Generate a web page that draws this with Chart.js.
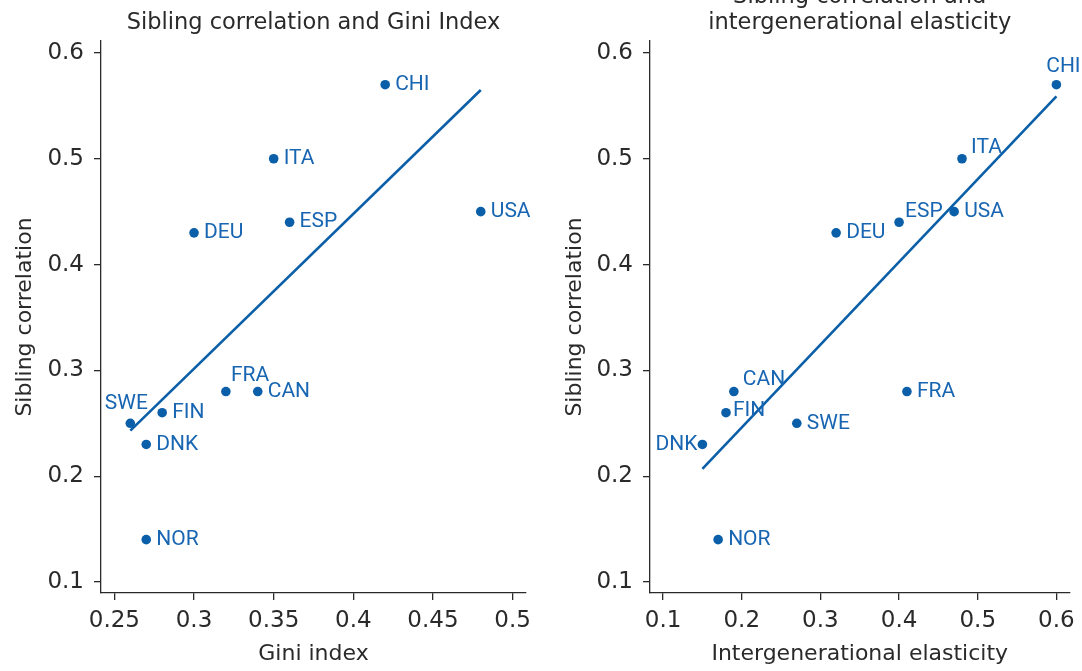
<!DOCTYPE html>
<html>
<head>
<meta charset="utf-8">
<script src="https://cdn.jsdelivr.net/npm/chart.js@4.4.1/dist/chart.umd.min.js"></script>
<style>
  html, body { margin: 0; padding: 0; background: #fff; overflow: hidden; }
  #page { position: relative; width: 1082px; height: 671px; overflow: hidden; }
  .panel { position: absolute; width: 541px; }
  #left { left: 0; top: 0; height: 671px; }
  #right { left: 541px; top: -26px; height: 697px; }
</style>
</head>
<body>
<div id="page">
  <div class="panel" id="left"><canvas id="giniChart" width="541" height="671"></canvas></div>
  <div class="panel" id="right"><canvas id="igeChart" width="541" height="697"></canvas></div>
</div>
<script>
// country codes and the two measures plotted against sibling correlation
const countries    = ['CHI', 'ITA', 'ESP', 'USA', 'DEU', 'FRA', 'CAN', 'SWE', 'FIN', 'DNK', 'NOR'];
const siblingCorr  = [0.57, 0.50, 0.44, 0.45, 0.43, 0.28, 0.28, 0.25, 0.26, 0.23, 0.14];
const giniIndex    = [0.42, 0.35, 0.36, 0.48, 0.30, 0.32, 0.34, 0.26, 0.28, 0.27, 0.27];
const igElasticity = [0.60, 0.48, 0.40, 0.47, 0.32, 0.41, 0.19, 0.27, 0.18, 0.15, 0.17];

// fitted lines, [x, y] at each end
const giniFit = [[0.26, 0.243], [0.48, 0.565]];
const igeFit  = [[0.15, 0.207], [0.60, 0.559]];

const giniTicks = [0.25, 0.3, 0.35, 0.4, 0.45, 0.5];
const igeTicks  = [0.1, 0.2, 0.3, 0.4, 0.5, 0.6];
const corrTicks = [0.1, 0.2, 0.3, 0.4, 0.5, 0.6];

const blue = '#0b5fa8';
const labelBlue = '#1866b2';
const ink = '#2a2a2a';
const axisFont = '"DejaVu Sans", sans-serif';
const labelFont = 'Roboto, sans-serif';

// where each country label sits relative to its dot: [dx, dy, textAlign]
const labelPlacement = {
  giniChart: {
    FRA: [5, -16, 'left'],
    SWE: [-4, -20, 'center']
  },
  igeChart: {
    CHI: [7, -18, 'center'],
    ITA: [9, -11, 'left'],
    ESP: [6, -10, 'left'],
    CAN: [9, -12, 'left'],
    FIN: [7, -2, 'left'],
    DNK: [-5, 0, 'right']
  }
};

const panelTitles = {
  giniChart: { lines: ['Sibling correlation and Gini Index'], top: 23.5 },
  igeChart: { lines: ['Sibling correlation and', 'intergenerational elasticity'], top: 23.5 }
};

const pointLabels = {
  id: 'pointLabels',
  afterDatasetsDraw(chart) {
    const ctx = chart.ctx;
    const place = labelPlacement[chart.canvas.id] || {};
    const meta = chart.getDatasetMeta(0);
    ctx.save();
    ctx.font = `21px ${labelFont}`;
    ctx.fillStyle = labelBlue;
    ctx.textBaseline = 'middle';
    meta.data.forEach((pt, i) => {
      const name = countries[i];
      const [dx, dy, align] = place[name] || [10, 0, 'left'];
      ctx.textAlign = align;
      ctx.fillText(name, pt.x + dx, pt.y + dy);
    });
    ctx.restore();
  }
};

// title centred over the plot area rather than the whole canvas
const panelTitle = {
  id: 'panelTitle',
  afterDraw(chart) {
    const t = panelTitles[chart.canvas.id];
    const {ctx, chartArea} = chart;
    const cx = (chartArea.left + chartArea.right) / 2;
    ctx.save();
    ctx.font = `22.5px ${axisFont}`;
    ctx.fillStyle = ink;
    ctx.textAlign = 'center';
    ctx.textBaseline = 'middle';
    t.lines.forEach((line, i) => ctx.fillText(line, cx, t.top + i * 26));
    ctx.restore();
  }
};

function axisOptions(ticks, min, max, title, titlePad, fitSize, horizontal) {
  return {
    type: 'linear',
    min: min,
    max: max,
    afterBuildTicks: axis => { axis.ticks = ticks.map(v => ({ value: v })); },
    afterFit: axis => {
      if (horizontal) axis.height = fitSize;
      else axis.width = fitSize;
    },
    ticks: {
      callback: v => String(v),
      autoSkip: false,
      maxRotation: 0,
      color: ink,
      padding: horizontal ? 7 : 10,
      font: { family: axisFont, size: 23 }
    },
    grid: {
      drawOnChartArea: false,
      drawTicks: true,
      tickLength: 7,
      color: ink,
      lineWidth: 1.3
    },
    border: { display: true, color: ink, width: 1.3 },
    title: {
      display: true,
      text: title,
      color: ink,
      font: { family: axisFont, size: 22, lineHeight: 1.2 },
      padding: titlePad
    }
  };
}

function makeChart(id, xs, fit, xTicks, xMin, xMax, xTitle, setup) {
  const points = xs.map((x, i) => ({ x: x, y: siblingCorr[i] }));
  const line = fit.map(p => ({ x: p[0], y: p[1] }));
  return new Chart(document.getElementById(id), {
    type: 'scatter',
    data: {
      datasets: [
        {
          data: points,
          backgroundColor: blue,
          borderColor: blue,
          pointRadius: 4.8,
          pointBorderWidth: 0
        },
        {
          type: 'line',
          data: line,
          borderColor: blue,
          borderWidth: 2.6,
          pointRadius: 0,
          fill: false
        }
      ]
    },
    options: {
      responsive: false,
      animation: false,
      layout: { padding: { top: setup.top, right: setup.right, left: 0, bottom: 0 } },
      plugins: {
        legend: { display: false },
        tooltip: { enabled: false },
        title: { display: false }
      },
      scales: {
        x: axisOptions(xTicks, xMin, xMax, xTitle, { top: 0, bottom: 4 }, 78, true),
        y: axisOptions(corrTicks, 0.0896, 0.6113, 'Sibling correlation',
                       { top: setup.yTitlePad, bottom: 0 }, setup.yWidth, false)
      }
    },
    plugins: [pointLabels, panelTitle]
  });
}

makeChart('giniChart', giniIndex, giniFit, giniTicks, 0.2416, 0.5084, 'Gini index',
          { top: 41, right: 15, yWidth: 101, yTitlePad: 12 });
makeChart('igeChart', igElasticity, igeFit, igeTicks, 0.0834, 0.6166, 'Intergenerational elasticity',
          { top: 67, right: 10, yWidth: 109, yTitlePad: 21 });
</script>
</body>
</html>
